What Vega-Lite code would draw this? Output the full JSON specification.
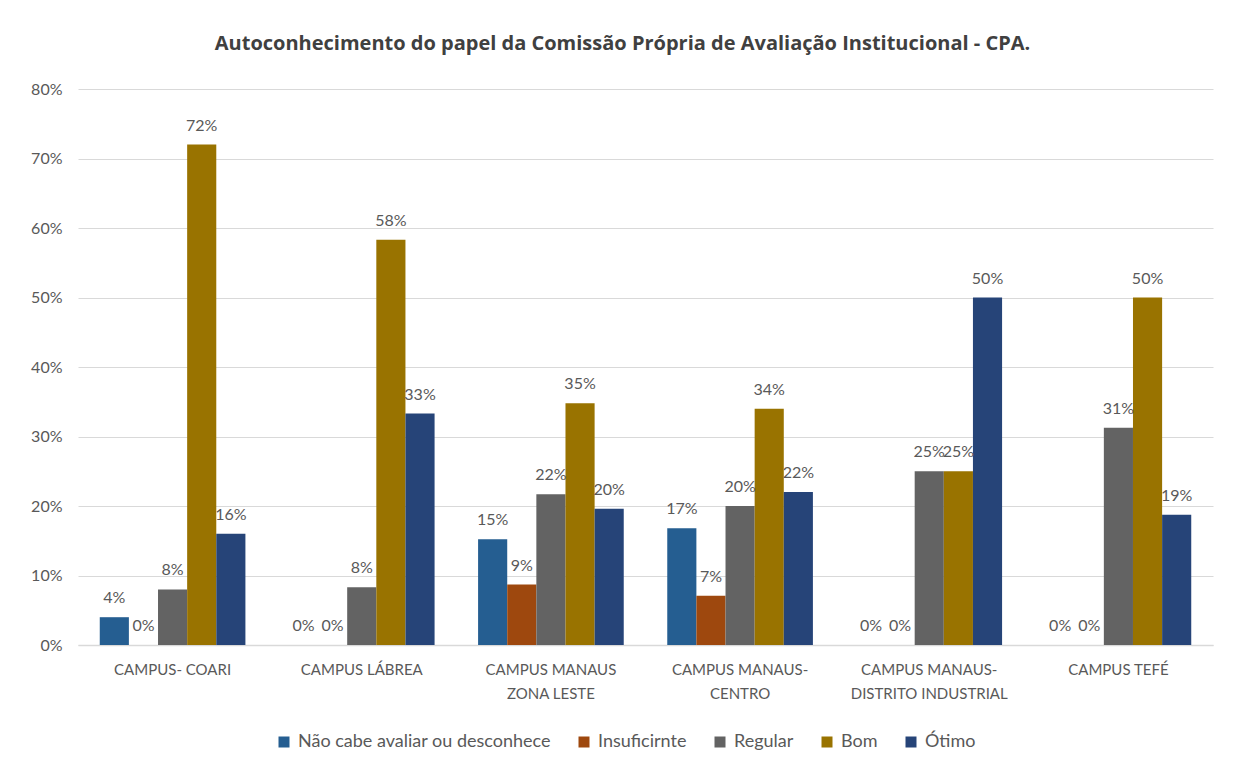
{
  "$schema": "https://vega.github.io/schema/vega-lite/v6.json",
  "width": 1135,
  "height": 556,
  "autosize": {"type": "none"},
  "padding": {"left": 78, "top": 89, "right": 25, "bottom": 128},
  "background": "white",
  "config": {
    "font": "Lato",
    "view": {"stroke": null},
    "axis": {"labelFont": "Lato", "labelColor": "#595959", "labelFontSize": 15}
  },
  "title": {
    "text": "Autoconhecimento do papel da Comissão Própria de Avaliação Institucional - CPA.",
    "fontSize": 20,
    "fontWeight": "bold",
    "color": "#404040",
    "font": "Open Sans",
    "anchor": "middle",
    "offset": 27,
    "dx": -23
  },
  "data": {
    "values": [
      {"campus": "CAMPUS- COARI", "serie": "Não cabe avaliar ou desconhece", "valor": 0.04},
      {"campus": "CAMPUS- COARI", "serie": "Insuficirnte", "valor": 0},
      {"campus": "CAMPUS- COARI", "serie": "Regular", "valor": 0.08},
      {"campus": "CAMPUS- COARI", "serie": "Bom", "valor": 0.72},
      {"campus": "CAMPUS- COARI", "serie": "Ótimo", "valor": 0.16},
      {"campus": "CAMPUS LÁBREA", "serie": "Não cabe avaliar ou desconhece", "valor": 0},
      {"campus": "CAMPUS LÁBREA", "serie": "Insuficirnte", "valor": 0},
      {"campus": "CAMPUS LÁBREA", "serie": "Regular", "valor": 0.083},
      {"campus": "CAMPUS LÁBREA", "serie": "Bom", "valor": 0.583},
      {"campus": "CAMPUS LÁBREA", "serie": "Ótimo", "valor": 0.333},
      {"campus": "CAMPUS MANAUS|ZONA LESTE", "serie": "Não cabe avaliar ou desconhece", "valor": 0.152},
      {"campus": "CAMPUS MANAUS|ZONA LESTE", "serie": "Insuficirnte", "valor": 0.087},
      {"campus": "CAMPUS MANAUS|ZONA LESTE", "serie": "Regular", "valor": 0.217},
      {"campus": "CAMPUS MANAUS|ZONA LESTE", "serie": "Bom", "valor": 0.348},
      {"campus": "CAMPUS MANAUS|ZONA LESTE", "serie": "Ótimo", "valor": 0.196},
      {"campus": "CAMPUS MANAUS-|CENTRO", "serie": "Não cabe avaliar ou desconhece", "valor": 0.168},
      {"campus": "CAMPUS MANAUS-|CENTRO", "serie": "Insuficirnte", "valor": 0.071},
      {"campus": "CAMPUS MANAUS-|CENTRO", "serie": "Regular", "valor": 0.2},
      {"campus": "CAMPUS MANAUS-|CENTRO", "serie": "Bom", "valor": 0.34},
      {"campus": "CAMPUS MANAUS-|CENTRO", "serie": "Ótimo", "valor": 0.22},
      {"campus": "CAMPUS MANAUS-|DISTRITO INDUSTRIAL", "serie": "Não cabe avaliar ou desconhece", "valor": 0},
      {"campus": "CAMPUS MANAUS-|DISTRITO INDUSTRIAL", "serie": "Insuficirnte", "valor": 0},
      {"campus": "CAMPUS MANAUS-|DISTRITO INDUSTRIAL", "serie": "Regular", "valor": 0.25},
      {"campus": "CAMPUS MANAUS-|DISTRITO INDUSTRIAL", "serie": "Bom", "valor": 0.25},
      {"campus": "CAMPUS MANAUS-|DISTRITO INDUSTRIAL", "serie": "Ótimo", "valor": 0.5},
      {"campus": "CAMPUS TEFÉ", "serie": "Não cabe avaliar ou desconhece", "valor": 0},
      {"campus": "CAMPUS TEFÉ", "serie": "Insuficirnte", "valor": 0},
      {"campus": "CAMPUS TEFÉ", "serie": "Regular", "valor": 0.3125},
      {"campus": "CAMPUS TEFÉ", "serie": "Bom", "valor": 0.5},
      {"campus": "CAMPUS TEFÉ", "serie": "Ótimo", "valor": 0.1875}
    ]
  },
  "encoding": {
    "x": {
      "field": "campus",
      "type": "nominal",
      "sort": null,
      "scale": {"paddingInner": 0.23, "paddingOuter": 0.115},
      "axis": {
        "title": null,
        "labelAngle": 0,
        "labelExpr": "split(datum.label, '|')",
        "labelLineHeight": 24,
        "labelPadding": 17,
        "labelFontSize": 15,
        "ticks": false,
        "domainColor": "#D9D9D9",
        "domainWidth": 1.5,
        "labelLimit": 300
      }
    },
    "xOffset": {
      "field": "serie",
      "type": "nominal",
      "sort": ["Não cabe avaliar ou desconhece", "Insuficirnte", "Regular", "Bom", "Ótimo"],
      "scale": {"paddingInner": 0, "paddingOuter": 0}
    },
    "y": {
      "field": "valor",
      "type": "quantitative",
      "scale": {"domain": [0, 0.8], "nice": false},
      "axis": {
        "title": null,
        "format": ".0%",
        "values": [0, 0.1, 0.2, 0.3, 0.4, 0.5, 0.6, 0.7, 0.8],
        "labelOverlap": false,
        "labelFontSize": 16,
        "domain": false,
        "ticks": false,
        "labelPadding": 16,
        "gridColor": "#D9D9D9",
        "gridWidth": 1.2
      }
    }
  },
  "layer": [
    {
      "mark": {"type": "bar"},
      "encoding": {
        "color": {
          "field": "serie",
          "type": "nominal",
          "sort": ["Não cabe avaliar ou desconhece", "Insuficirnte", "Regular", "Bom", "Ótimo"],
          "scale": {
            "domain": ["Não cabe avaliar ou desconhece", "Insuficirnte", "Regular", "Bom", "Ótimo"],
            "range": ["#255E91", "#9E480E", "#636363", "#997300", "#264478"]
          },
          "legend": {
            "title": null,
            "orient": "none",
            "direction": "horizontal",
            "legendX": 197,
            "legendY": 644,
            "symbolType": "square",
            "symbolSize": 121,
            "symbolStrokeWidth": 0,
            "labelFont": "Lato",
            "labelFontSize": 18,
            "labelColor": "#595959",
            "columnPadding": 24,
            "labelOffset": 5,
            "labelLimit": 400
          }
        }
      }
    },
    {
      "mark": {"type": "text", "baseline": "bottom", "dy": -11, "fontSize": 16, "color": "#595959", "font": "Lato"},
      "encoding": {
        "text": {"field": "valor", "type": "quantitative", "format": ".0%"}
      }
    }
  ]
}
